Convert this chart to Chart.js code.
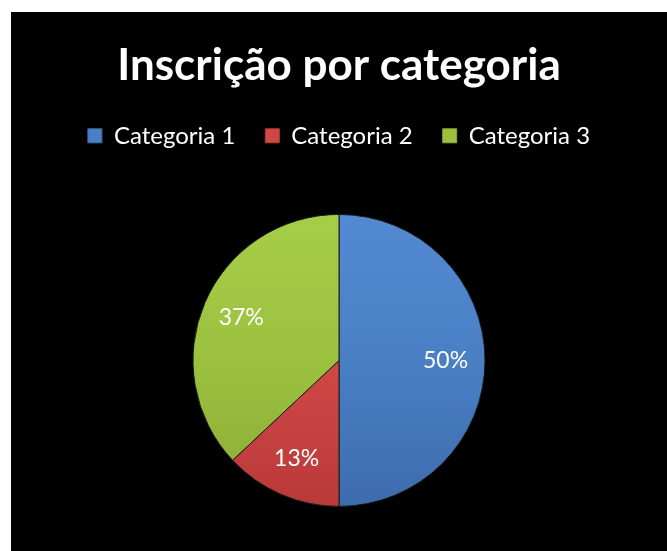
<!DOCTYPE html>
<html>
<head>
<meta charset="utf-8">
<script src="https://cdn.jsdelivr.net/npm/chart.js@4"></script>
<style>
  html, body { margin: 0; padding: 0; background: #ffffff; overflow: hidden; }
  #wrap { position: absolute; left: 11px; top: 12px; width: 656px; height: 539px; background: #000; overflow: hidden; }
  #c { display: block; }
</style>
</head>
<body>
<div id="wrap"><canvas id="c" width="656" height="551"></canvas></div>
<script>
const categories = ["Categoria 1", "Categoria 2", "Categoria 3"];
const values = [50, 13, 37];
const titleText = "Inscrição por categoria";
const baseColors = ["#4a7fc4", "#cf4845", "#9cc13f"];
const topColors = ["#528ad2", "#e0534f", "#a6cd48"];
const bottomColors = ["#3d6cad", "#b93a39", "#8aab35"];
const PIE_RADIUS = 146;

function segFill(ctx) {
  const chart = ctx.chart;
  const area = chart.chartArea;
  const i = ctx.dataIndex;
  if (!area || i === undefined) return baseColors[i] || "#888";
  const cy = (area.top + area.bottom) / 2;
  const r = PIE_RADIUS;
  const g = chart.ctx.createLinearGradient(0, cy - r, 0, cy + r);
  g.addColorStop(0, topColors[i]);
  g.addColorStop(0.5, baseColors[i]);
  g.addColorStop(1, bottomColors[i]);
  return g;
}

const pctLabels = {
  id: "pctLabels",
  afterDatasetsDraw(chart) {
    const meta = chart.getDatasetMeta(0);
    const data = chart.data.datasets[0].data;
    const total = data.reduce((a, b) => a + b, 0);
    const c = chart.ctx;
    c.save();
    c.fillStyle = "#ffffff";
    c.font = "23px Lato, 'Open Sans', sans-serif";
    c.textAlign = "center";
    c.textBaseline = "middle";
    meta.data.forEach((arc, i) => {
      const mid = (arc.startAngle + arc.endAngle) / 2;
      const rr = arc.outerRadius * 0.73;
      const x = arc.x + Math.cos(mid) * rr;
      const y = arc.y + Math.sin(mid) * rr;
      c.fillText(Math.round(data[i] / total * 100) + "%", x, y);
    });
    c.restore();
  }
};

new Chart(document.getElementById("c"), {
  type: "pie",
  data: {
    labels: categories,
    datasets: [{
      data: values,
      backgroundColor: segFill,
      borderColor: "#1a1a1a",
      borderWidth: 1,
      radius: PIE_RADIUS
    }]
  },
  options: {
    responsive: false,
    animation: false,
    layout: { padding: 0 },
    plugins: {
      tooltip: { enabled: false },
      title: {
        display: true,
        text: titleText,
        color: "#ffffff",
        font: { family: "Lato, 'Open Sans', sans-serif", size: 44, weight: "bold", lineHeight: 1.2 },
        padding: { top: 27, bottom: 2 }
      },
      legend: {
        display: true,
        position: "top",
        labels: {
          color: "#ffffff",
          font: { family: "Lato, 'Open Sans', sans-serif", size: 24 },
          boxWidth: 14,
          boxHeight: 14,
          padding: 30,
          generateLabels(chart) {
            return categories.map((t, i) => ({
              text: t,
              fillStyle: baseColors[i],
              strokeStyle: bottomColors[i],
              lineWidth: 1,
              fontColor: "#ffffff",
              hidden: false,
              index: i
            }));
          }
        }
      }
    }
  },
  plugins: [pctLabels]
});
</script>
</body>
</html>
